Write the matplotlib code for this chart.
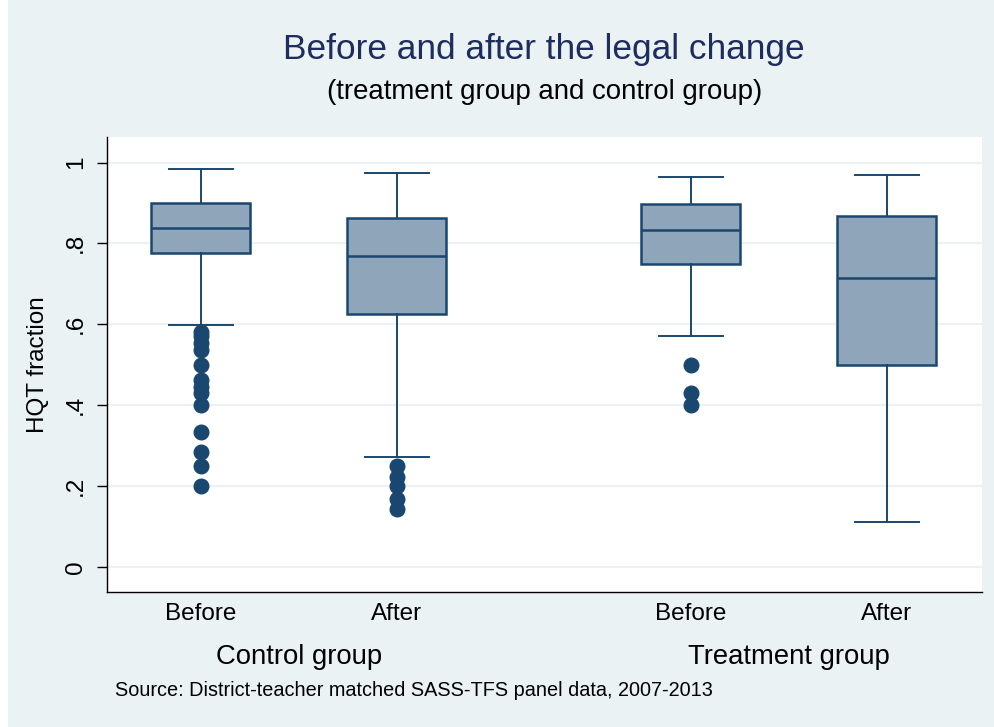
import matplotlib
matplotlib.use("Agg")
import matplotlib.pyplot as plt
import matplotlib.transforms as mtransforms
from matplotlib.patches import Rectangle

# box statistics
periods = ["Before", "After", "Before", "After"]
groups = ["Control group", "Treatment group"]
whis_lo = [0.599, 0.273, 0.572, 0.111]
q1 = [0.777, 0.625, 0.750, 0.500]
median = [0.837, 0.768, 0.833, 0.714]
q3 = [0.901, 0.863, 0.898, 0.867]
whis_hi = [0.985, 0.974, 0.964, 0.969]
outliers = [
    [0.582, 0.570, 0.555, 0.537, 0.500, 0.463, 0.446, 0.430, 0.400,
     0.333, 0.285, 0.250, 0.200],
    [0.250, 0.222, 0.200, 0.167, 0.143],
    [0.500, 0.430, 0.400],
    [],
]

navy = "#1A476F"
fill = "#8FA5B9"
bg = "#EAF2F3"

plt.rcParams["font.family"] = ["Liberation Sans", "DejaVu Sans"]

fig = plt.figure(figsize=(9.95, 7.27), dpi=100, facecolor="white")
fig.patches.append(Rectangle((8 / 995, 0), 1, 1, transform=fig.transFigure,
                             facecolor=bg, edgecolor="none", zorder=-10))

ax = fig.add_axes([0.1072, 0.1857, 0.8794, 0.6263])
ax.set_facecolor("white")

positions = [0, 1, 2.5, 3.5]
stats = []
for i in range(len(periods)):
    stats.append(dict(med=median[i], q1=q1[i], q3=q3[i], whislo=whis_lo[i],
                      whishi=whis_hi[i], fliers=outliers[i], label=periods[i]))

ax.bxp(stats, positions=positions, widths=0.505, capwidths=0.33,
       patch_artist=True, showfliers=True,
       boxprops=dict(facecolor=fill, edgecolor=navy, linewidth=1.8),
       medianprops=dict(color=navy, linewidth=1.8),
       whiskerprops=dict(color=navy, linewidth=1.4),
       capprops=dict(color=navy, linewidth=1.4),
       flierprops=dict(marker="o", markerfacecolor=navy, markeredgecolor=navy,
                       markersize=10.5))

ax.set_xlim(-0.481, 3.983)
ax.set_ylim(-0.062, 1.064)
ax.set_yticks([0, 0.2, 0.4, 0.6, 0.8, 1.0])
ax.set_yticklabels(["0", ".2", ".4", ".6", ".8", "1"])
ax.yaxis.grid(True, color=bg, linewidth=1.5)
ax.set_axisbelow(True)

for side in ["top", "right"]:
    ax.spines[side].set_visible(False)
ax.spines["left"].set_linewidth(1.0)
ax.spines["bottom"].set_linewidth(1.0)

ax.tick_params(axis="y", length=7, width=1.0, pad=7, labelsize=17.5)
for lbl in ax.get_yticklabels():
    lbl.set_rotation(90)
    lbl.set_va("center")
ax.tick_params(axis="x", length=0, pad=8, labelsize=17.5)

ax.set_ylabel("HQT fraction", fontsize=17.5, labelpad=12)

trans = mtransforms.blended_transform_factory(ax.transData, fig.transFigure)
ax.text((positions[0] + positions[1]) / 2, 1 - 657 / 727, groups[0],
        transform=trans, ha="center", va="center", fontsize=19.8)
ax.text((positions[2] + positions[3]) / 2, 1 - 657 / 727, groups[1],
        transform=trans, ha="center", va="center", fontsize=19.8)

fig.text(0.5 * (283 + 805) / 995, 1 - 50 / 727, "Before and after the legal change",
         ha="center", va="center", fontsize=25.4, color="#1E2D5E")
fig.text(0.5 * (327 + 762) / 995, 1 - 92 / 727, "(treatment group and control group)",
         ha="center", va="center", fontsize=19.9, color="black")
fig.text(115 / 995, 1 - 691 / 727,
         "Source: District-teacher matched SASS-TFS panel data, 2007-2013",
         ha="left", va="center", fontsize=14.35)

fig.savefig("out.png", dpi=100, facecolor=fig.get_facecolor())
